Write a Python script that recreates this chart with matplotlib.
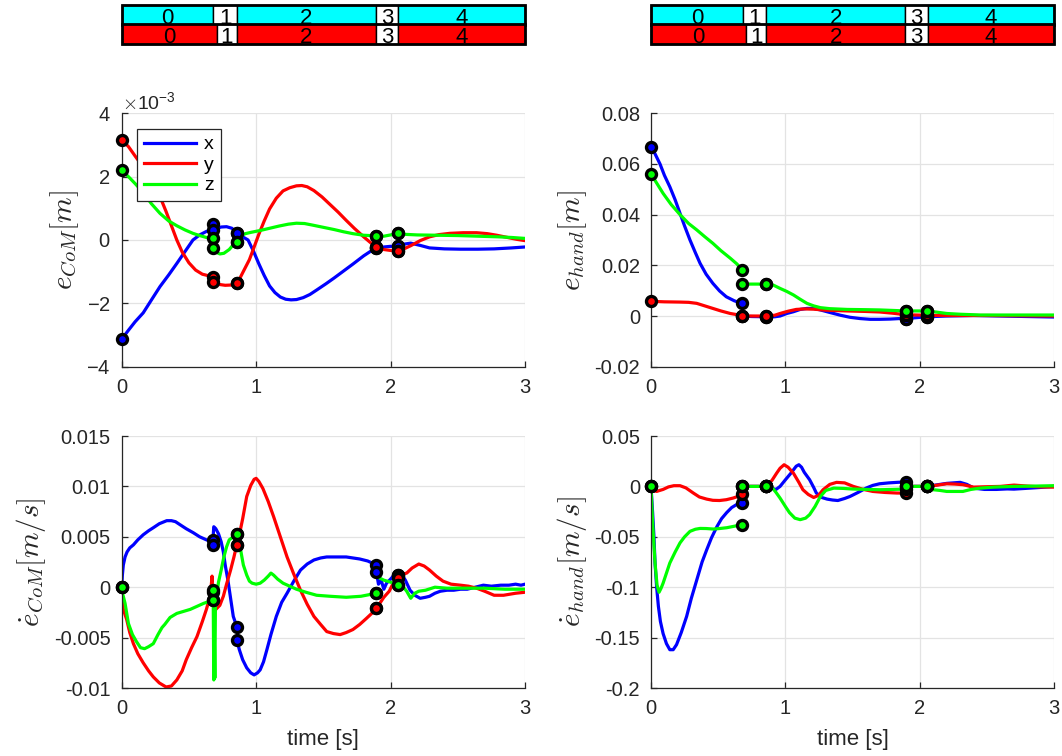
import numpy as np
import matplotlib
matplotlib.use("Agg")
import matplotlib.pyplot as plt
from matplotlib.patches import Rectangle
from matplotlib.ticker import FuncFormatter, ScalarFormatter

nan = np.nan
MILLI = 1e-3

# ---------------------------------------------------------------- phases
PHASE_LABELS = ["0", "1", "2", "3", "4"]
PHASE_EDGES_TOP = [0.0, 0.682, 0.856, 1.892, 2.058, 3.0]
PHASE_EDGES_BOT = [0.0, 0.707, 0.856, 1.892, 2.058, 3.0]

# start / end markers of each phase
MARK_T = [0.0, 0.676, 0.676, 0.856, 0.856, 1.895, 1.895, 2.053, 2.053]

# ---------------------------------------------------------------- CoM error (x1e-3 m)
COM_X_T = [0.0, 0.05, 0.10, 0.16, 0.22, 0.285, 0.35, 0.41, 0.47, 0.53, 0.58, 0.63, 0.676,
           0.70, 0.74, 0.78, 0.82, 0.856,
           0.90, 0.94, 0.98, 1.02, 1.06, 1.10, 1.14, 1.18, 1.22, 1.26, 1.30, 1.35, 1.40, 1.45,
           1.52, 1.58, 1.65, 1.72, 1.80, 1.85, 1.895,
           1.95, 2.0, 2.053,
           2.10, 2.15, 2.22, 2.29, 2.40, 2.52, 2.65, 2.77, 2.90, 3.0]
COM_X = [-3.13, -2.85, -2.58, -2.3, -1.9, -1.47, -1.1, -0.74, -0.37, 0.0, 0.16, 0.27, 0.32,
         0.36, 0.41, 0.42, 0.37, 0.23,
         0.1, 0.0, -0.35, -0.75, -1.12, -1.45, -1.66, -1.8, -1.87, -1.89, -1.88, -1.82, -1.72, -1.58,
         -1.38, -1.2, -0.98, -0.76, -0.5, -0.36, -0.25,
         -0.22, -0.2, -0.2,
         -0.13, -0.1, -0.17, -0.25, -0.28, -0.29, -0.29, -0.28, -0.25, -0.22]

COM_Y_T = [0.0, 0.05, 0.10, 0.16, 0.22, 0.285, 0.33, 0.37, 0.41, 0.45, 0.50, 0.55, 0.60, 0.676,
           0.676, 0.676,
           0.72, 0.77, 0.82, 0.856,
           0.88, 0.91, 0.95, 0.98, 1.02, 1.06, 1.10, 1.15, 1.20, 1.25, 1.30, 1.34, 1.38, 1.43,
           1.49, 1.55, 1.61, 1.67, 1.73, 1.80, 1.85, 1.895,
           1.95, 2.0, 2.053,
           2.10, 2.15, 2.22, 2.29, 2.36, 2.44, 2.54, 2.64, 2.72, 2.79, 2.87, 2.94, 3.0]
COM_Y = [3.16, 2.95, 2.65, 2.3, 1.85, 1.37, 0.9, 0.45, 0.0, -0.38, -0.72, -0.95, -1.08, -1.16,
         nan, -1.32,
         -1.4, -1.43, -1.42, -1.35,
         -1.2, -0.95, -0.62, -0.28, 0.18, 0.6, 0.98, 1.32, 1.55, 1.65, 1.71, 1.72, 1.68, 1.56,
         1.36, 1.12, 0.88, 0.62, 0.37, 0.1, -0.08, -0.21,
         -0.3, -0.33, -0.34,
         -0.28, -0.18, -0.02, 0.1, 0.17, 0.21, 0.23, 0.23, 0.2, 0.15, 0.08, 0.02, -0.02]

COM_Z_T = [0.0, 0.05, 0.10, 0.16, 0.22, 0.285, 0.35, 0.41, 0.47, 0.53, 0.58, 0.63, 0.676,
           0.676, 0.676,
           0.70, 0.73, 0.76, 0.80, 0.83, 0.856,
           0.88, 0.92, 0.96, 1.03, 1.10, 1.17, 1.24, 1.30, 1.36, 1.42, 1.50, 1.58, 1.65, 1.72,
           1.80, 1.895,
           1.95, 2.0, 2.053,
           2.10, 2.2, 2.35, 2.5, 2.65, 2.8, 2.9, 3.0]
COM_Z = [2.21, 2.0, 1.78, 1.5, 1.15, 0.84, 0.6, 0.45, 0.32, 0.21, 0.14, 0.08, 0.05,
         nan, -0.25,
         -0.38, -0.44, -0.42, -0.3, -0.15, -0.05,
         0.12, 0.2, 0.24, 0.3, 0.37, 0.44, 0.5, 0.53, 0.52, 0.47, 0.4, 0.33, 0.26, 0.2,
         0.15, 0.13,
         0.12, 0.16, 0.21,
         0.18, 0.16, 0.15, 0.14, 0.12, 0.1, 0.08, 0.05]

COM_X_MK = [-3.13, 0.5, 0.32, 0.23, 0.23, -0.25, -0.25, -0.2, -0.2]
COM_Y_MK = [3.16, -1.16, -1.32, -1.35, -1.35, -0.21, -0.21, -0.34, -0.34]
COM_Z_MK = [2.21, 0.05, -0.25, -0.05, -0.05, 0.13, 0.13, 0.21, 0.21]

# ---------------------------------------------------------------- hand error (m)
HAND_X_T = [0.0, 0.03, 0.067, 0.10, 0.14, 0.18, 0.216, 0.25, 0.29, 0.33, 0.365, 0.41, 0.46,
            0.51, 0.56, 0.62, 0.676,
            0.676, 0.676,
            0.75, 0.856,
            0.92, 0.96, 1.01, 1.06, 1.11, 1.16, 1.21, 1.26, 1.33, 1.41, 1.48, 1.555, 1.63, 1.70,
            1.78, 1.85, 1.895,
            2.053,
            2.2, 2.4, 2.6, 2.8, 3.0]
HAND_X = [0.0668, 0.064, 0.060, 0.0555, 0.051, 0.0458, 0.0405, 0.0355, 0.030, 0.025, 0.0208,
          0.0165, 0.0129, 0.0099, 0.0076, 0.006, 0.005,
          nan, 0.0,
          -0.0002, -0.0003,
          -0.0003, 0.0, 0.001, 0.0017, 0.0026, 0.003, 0.003, 0.0024, 0.0014, 0.0003, -0.0005,
          -0.001, -0.0013, -0.0013, -0.0012, -0.001, -0.001,
          -0.0003,
          0.0, 0.0002, 0.0, -0.0002, -0.0004]

HAND_Y_T = [0.0, 0.1, 0.216, 0.28, 0.34, 0.40, 0.46, 0.52, 0.59, 0.676,
            0.676, 0.676,
            0.856,
            0.92, 0.96, 1.02, 1.08, 1.14, 1.21, 1.30, 1.46, 1.60, 1.70, 1.80, 1.895,
            2.053, 2.2, 2.5, 3.0]
HAND_Y = [0.0058, 0.0056, 0.0055, 0.0054, 0.005, 0.004, 0.003, 0.002, 0.001, 0.0002,
          nan, 0.0,
          0.0,
          0.0003, 0.001, 0.0019, 0.0026, 0.0028, 0.0027, 0.0023, 0.002, 0.0018, 0.0016, 0.0011,
          0.0005,
          0.0003, 0.0002, 0.0002, 0.0]

HAND_Z_T = [0.0, 0.03, 0.09, 0.15, 0.216, 0.28, 0.34, 0.40, 0.46, 0.52, 0.59, 0.64, 0.676,
            0.676, 0.676,
            0.856,
            0.91, 0.96, 1.01, 1.06, 1.11, 1.16, 1.21, 1.26, 1.33, 1.46, 1.60, 1.70, 1.80, 1.895,
            2.053, 2.13, 2.2, 2.3, 2.45, 2.7, 3.0]
HAND_Z = [0.056, 0.0535, 0.0484, 0.044, 0.040, 0.0365, 0.034, 0.0313, 0.0287, 0.0258, 0.0228,
          0.0205, 0.0182,
          nan, 0.0126,
          0.0126,
          0.0122, 0.0109, 0.0097, 0.0083, 0.0066, 0.005, 0.004, 0.0033, 0.0029, 0.0026, 0.0025,
          0.0024, 0.0022, 0.002,
          0.002, 0.0015, 0.001, 0.0007, 0.0004, 0.0004, 0.0004]

HAND_X_MK = [0.0668, 0.005, 0.0, -0.0003, -0.0003, -0.001, -0.001, -0.0003, -0.0003]
HAND_Y_MK = [0.0058, 0.0002, 0.0, 0.0, 0.0, 0.0005, 0.0005, 0.0003, 0.0003]
HAND_Z_MK = [0.056, 0.0182, 0.0126, 0.0126, 0.0126, 0.002, 0.002, 0.002, 0.002]

# ---------------------------------------------------------------- CoM velocity error (x1e-3 m/s)
DCOM_X_T = [0.0, 0.005, 0.012, 0.025, 0.04, 0.06, 0.087, 0.12, 0.16, 0.2, 0.235, 0.28, 0.335,
            0.37, 0.40, 0.434, 0.48, 0.533, 0.58, 0.63, 0.676,
            0.676, 0.676,
            0.685, 0.70, 0.72, 0.74, 0.756, 0.77, 0.79, 0.81, 0.83, 0.856,
            0.856, 0.856,
            0.875, 0.90, 0.93, 0.96, 0.985, 1.01, 1.03, 1.055, 1.08, 1.11, 1.15, 1.19, 1.23,
            1.28, 1.33, 1.38, 1.43, 1.48, 1.525, 1.60, 1.67, 1.72, 1.77, 1.83, 1.895,
            1.895, 1.895,
            1.91, 1.93, 1.95, 1.97, 2.0, 2.02, 2.053,
            2.08, 2.11, 2.145, 2.18, 2.22, 2.26, 2.29, 2.33, 2.37, 2.42, 2.47, 2.52, 2.57, 2.63,
            2.69, 2.75, 2.82, 2.88, 2.93, 2.97, 3.0]
DCOM_X = [0.0, 1.2, 2.2, 3.0, 3.5, 3.9, 4.2, 4.7, 5.2, 5.6, 5.9, 6.3, 6.6,
          6.6, 6.5, 6.2, 5.8, 5.4, 5.0, 4.7, 4.5,
          nan, 4.2,
          6.0, 5.8, 5.3, 4.5, 3.5, 2.2, 0.7, -1.1, -2.9, -3.9,
          nan, -5.2,
          -6.2, -7.2, -8.0, -8.5, -8.7, -8.5, -8.2, -7.4, -6.2, -4.7, -2.9, -1.5, -0.6,
          0.6, 1.7, 2.3, 2.7, 2.9, 3.0, 3.0, 3.0, 2.9, 2.8, 2.6, 2.2,
          nan, 1.5,
          0.3, 0.7, -0.2, 0.4, 0.8, 1.1, 1.2,
          1.3, 0.7, -0.3, -0.8, -1.1, -1.0, -0.9, -0.6, -0.4, -0.3, -0.3, -0.2, -0.2, 0.0,
          0.2, 0.1, 0.2, 0.2, 0.3, 0.2, 0.3]

DCOM_Y_T = [0.0, 0.012, 0.037, 0.06, 0.087, 0.12, 0.16, 0.2, 0.235, 0.28, 0.33, 0.37, 0.41,
            0.45, 0.48, 0.52, 0.56, 0.60, 0.63, 0.66, 0.672, 0.676,
            0.676, 0.676,
            0.685, 0.70, 0.73, 0.756, 0.78, 0.81, 0.835, 0.856,
            0.856, 0.856,
            0.88, 0.90, 0.93, 0.96, 0.985, 1.0, 1.02, 1.05, 1.09, 1.13, 1.18, 1.23, 1.28, 1.33,
            1.38, 1.43, 1.48, 1.525, 1.575, 1.625, 1.67, 1.72, 1.77, 1.82, 1.86, 1.895,
            1.895, 1.895,
            1.92, 1.95, 1.99, 2.02, 2.053,
            2.09, 2.12, 2.16, 2.21, 2.25, 2.29, 2.34, 2.39, 2.45, 2.52, 2.58, 2.64, 2.70, 2.77,
            2.84, 2.93, 3.0]
DCOM_Y = [0.0, -2.2, -3.2, -4.5, -5.6, -6.6, -7.5, -8.3, -8.9, -9.5, -9.9, -9.8, -9.2,
          -8.3, -7.2, -6.0, -4.9, -3.4, -2.2, -0.8, 1.1, -0.5,
          nan, -1.3,
          -1.5, -2.2, -1.8, -0.9, 0.3, 1.7, 3.0, 4.2,
          nan, 4.2,
          5.5, 6.8, 9.0, 10.1, 10.7, 10.8, 10.5, 9.8, 8.5, 7.0, 5.0, 3.0, 1.3, -0.3,
          -1.7, -2.9, -3.7, -4.4, -4.6, -4.7, -4.5, -4.2, -3.7, -3.1, -2.6, -2.1,
          nan, -2.1,
          -1.6, -1.0, -0.4, 0.4, 1.1,
          1.3, 1.4, 1.9, 2.3, 2.1, 1.7, 1.1, 0.6, 0.3, 0.2, 0.1, -0.1, -0.4, -0.8,
          -0.8, -0.6, -0.5]

DCOM_Z_T = [0.0, 0.01, 0.025, 0.05, 0.08, 0.11, 0.14, 0.17, 0.2, 0.235, 0.27, 0.30, 0.32,
            0.36, 0.41, 0.46, 0.51, 0.56, 0.61, 0.676,
            0.676, 0.676,
            0.681, 0.685, 0.689, 0.693, 0.697, 0.70, 0.72, 0.74, 0.76, 0.78, 0.80, 0.83, 0.856,
            0.856, 0.856,
            0.875, 0.89, 0.905, 0.93, 0.95, 0.97, 1.0, 1.03, 1.06, 1.09, 1.11, 1.13, 1.16, 1.2,
            1.25, 1.3, 1.37, 1.45, 1.55, 1.67, 1.78, 1.895,
            1.895, 1.895,
            1.92, 1.95, 2.0, 2.053,
            2.09, 2.12, 2.15, 2.18, 2.21, 2.26, 2.33, 2.42, 2.55, 2.7, 2.85, 3.0]
DCOM_Z = [0.0, -0.8, -1.6, -3.6, -4.7, -5.4, -6.0, -6.1, -5.9, -5.6, -4.7, -4.0, -3.7,
          -3.0, -2.6, -2.4, -2.2, -1.9, -1.6, -1.3,
          nan, -0.3,
          -1.5, -9.2, -5.0, -9.0, -2.0, -1.5, 0.5, 1.7, 3.0, 4.0, 4.7, 5.0, 5.3,
          nan, 5.3,
          4.4, 3.3, 2.2, 1.2, 0.6, 0.4, 0.3, 0.4, 0.7, 1.1, 1.4, 1.2, 0.8, 0.4,
          0.1, -0.2, -0.5, -0.8, -0.9, -1.0, -0.9, -0.6,
          nan, 1.2,
          0.9, 0.7, 0.5, 0.2,
          0.1, -0.4, -1.1, -0.6, -0.4, -0.3, 0.0, -0.1, -0.1, -0.1, -0.2, -0.2]

DCOM_X_MK = [0.0, 4.7, 4.2, -3.9, -5.2, 2.2, 1.5, 1.2, 1.2]
DCOM_Y_MK = [0.0, -0.5, -1.3, 4.2, 4.2, -2.1, -2.1, 1.1, 0.9]
DCOM_Z_MK = [0.0, -1.3, -0.3, 5.3, 5.3, -0.6, -0.6, 0.2, 0.2]

# ---------------------------------------------------------------- hand velocity error (m/s)
DHAND_X_T = [0.0, 0.012, 0.022, 0.03, 0.042, 0.055, 0.07, 0.09, 0.115, 0.14, 0.165, 0.19,
             0.225, 0.265, 0.30, 0.34, 0.38, 0.414, 0.45, 0.49, 0.525, 0.563, 0.60, 0.637, 0.676,
             0.676, 0.676,
             0.856,
             0.9, 0.93, 0.96, 1.0, 1.04, 1.06, 1.08, 1.1, 1.12, 1.14, 1.18, 1.21, 1.23, 1.27,
             1.31, 1.35, 1.39, 1.44, 1.48, 1.54, 1.6, 1.65, 1.7, 1.77, 1.83, 1.895,
             1.895, 1.895,
             2.053,
             2.1, 2.15, 2.2, 2.25, 2.3, 2.35, 2.4, 2.48, 2.57, 2.65, 2.7, 2.82, 2.9, 3.0]
DHAND_X = [0.0, -0.026, -0.05, -0.076, -0.1, -0.119, -0.134, -0.146, -0.156, -0.162, -0.162,
           -0.157, -0.145, -0.129, -0.111, -0.093, -0.075, -0.063, -0.051, -0.04, -0.032,
           -0.026, -0.021, -0.018, -0.0165,
           nan, 0.0,
           0.0,
           -0.002, -0.003, 0.0, 0.0066, 0.013, 0.0165, 0.02, 0.0215, 0.019, 0.014, 0.0066,
           -0.001, -0.0066, -0.011, -0.0126, -0.0135, -0.014, -0.012, -0.01, -0.006, -0.0017,
           0.001, 0.0026, 0.0035, 0.004, 0.0045,
           nan, 0.0,
           0.0,
           0.001, 0.002, 0.003, 0.0035, 0.004, 0.002, -0.0017, -0.003, -0.003, -0.0025,
           -0.0027, -0.0017, -0.001, 0.0]

DHAND_Y_T = [0.0, 0.02, 0.042, 0.065, 0.09, 0.13, 0.17, 0.216, 0.26, 0.315, 0.36, 0.414, 0.46,
             0.51, 0.56, 0.61, 0.65, 0.676,
             0.676, 0.676,
             0.856,
             0.90, 0.935, 0.96, 0.99, 1.02, 1.06, 1.1, 1.13, 1.17, 1.21, 1.245, 1.28, 1.33,
             1.38, 1.44, 1.505, 1.58, 1.65, 1.74, 1.83, 1.895,
             1.895, 1.895,
             2.053,
             2.1, 2.2, 2.26, 2.32, 2.4, 2.5, 2.6, 2.7, 2.8, 2.9, 3.0]
DHAND_Y = [0.0, -0.004, -0.005, -0.004, -0.003, -0.0005, 0.0007, 0.0007, -0.0015, -0.0066,
           -0.0105, -0.0126, -0.0138, -0.014, -0.0132, -0.0116, -0.0098, -0.008,
           nan, 0.0,
           0.0,
           0.006, 0.0132, 0.018, 0.0215, 0.019, 0.013, 0.004, -0.0033, -0.008, -0.011, -0.009,
           -0.0033, 0.002, 0.004, 0.0035, 0.0, -0.003, -0.005, -0.006, -0.0066, -0.0066,
           nan, 0.0,
           0.0,
           0.0007, 0.0026, 0.0023, 0.0017, -0.0007, -0.0003, 0.0, 0.0013, 0.0003, -0.0005,
           -0.0007]

DHAND_Z_T = [0.0, 0.012, 0.03, 0.045, 0.06, 0.075, 0.09, 0.115, 0.14, 0.18, 0.216, 0.25, 0.29,
             0.33, 0.365, 0.41, 0.464, 0.51, 0.563, 0.62, 0.676,
             0.676, 0.676,
             0.856,
             0.90, 0.93, 0.96, 1.0, 1.03, 1.07, 1.11, 1.15, 1.18, 1.22, 1.26, 1.3, 1.36, 1.43,
             1.5, 1.6, 1.7, 1.8, 1.895,
             1.895, 1.895,
             2.053,
             2.1, 2.15, 2.2, 2.32, 2.38, 2.45, 2.55, 2.7, 2.85, 3.0]
DHAND_Z = [0.0, -0.036, -0.076, -0.098, -0.105, -0.101, -0.096, -0.086, -0.076, -0.065, -0.056,
           -0.05, -0.0446, -0.0425, -0.0417, -0.0418, -0.0423, -0.0418, -0.041, -0.0395, -0.038,
           nan, 0.0,
           0.0,
           -0.001, -0.006, -0.0116, -0.02, -0.026, -0.0315, -0.033, -0.0315, -0.028, -0.02,
           -0.01, -0.004, -0.0017, -0.002, -0.0026, -0.003, -0.0033, -0.003, -0.0026,
           nan, 0.0,
           0.0,
           -0.0033, -0.004, -0.005, -0.005, -0.003, -0.0017, -0.0007, 0.0, 0.0003, 0.0007]

DHAND_X_MK = [0.0, -0.0165, 0.0, 0.0, 0.0, 0.0045, 0.0, 0.0, 0.0]
DHAND_Y_MK = [0.0, -0.008, 0.0, 0.0, 0.0, -0.0066, 0.0, 0.0, 0.0]
DHAND_Z_MK = [0.0, -0.038, 0.0, 0.0, 0.0, -0.0026, 0.0, 0.0, 0.0]

# ---------------------------------------------------------------- axes / labels
SERIES_LABELS = ["x", "y", "z"]
SERIES_COLORS = ["#0000ff", "#ff0000", "#00ff00"]
XTICKS = [0, 1, 2, 3]
YTICKS_COM = [-4e-3, -2e-3, 0.0, 2e-3, 4e-3]
YTICKS_HAND = [-0.02, 0.0, 0.02, 0.04, 0.06, 0.08]
YTICKS_DCOM = [-0.01, -0.005, 0.0, 0.005, 0.01, 0.015]
YTICKS_DHAND = [-0.2, -0.15, -0.1, -0.05, 0.0, 0.05]
XLABEL = "time [s]"
YLABEL_COM = r"$e_{CoM}[m]$"
YLABEL_HAND = r"$e_{hand}[m]$"
YLABEL_DCOM = r"$\dot{e}_{CoM}[m/s]$"
YLABEL_DHAND = r"$\dot{e}_{hand}[m/s]$"

AXIS_C = "#262626"
GRID_C = "#e3e3e3"

plt.rcParams.update({
    "font.family": ["Liberation Sans", "DejaVu Sans"],
    "mathtext.fontset": "cm",
    "axes.unicode_minus": False,
})

fig = plt.figure(figsize=(10.62, 7.56), dpi=100)
W, H = 1062.0, 756.0
AX_W = 403.3 / W
LEFT_L, LEFT_R = 121.7 / W, 651.0 / W
POS = {
    "tl": [LEFT_L, 1 - 366.7 / H, AX_W, 253.4 / H],
    "tr": [LEFT_R, 1 - 366.7 / H, AX_W, 253.4 / H],
    "bl": [LEFT_L, 1 - 688.0 / H, AX_W, 252.0 / H],
    "br": [LEFT_R, 1 - 688.0 / H, AX_W, 252.0 / H],
}

g_fmt = FuncFormatter(lambda v, p: "%g" % round(v, 6))


def style(ax, yticks, ylabel, sci=False):
    ax.set_xlim(0, 3)
    ax.set_ylim(yticks[0], yticks[-1])
    ax.set_xticks(XTICKS)
    ax.set_yticks(yticks)
    ax.xaxis.set_major_formatter(g_fmt)
    if sci:
        f = ScalarFormatter(useMathText=True)
        f.set_powerlimits((0, 0))
        ax.yaxis.set_major_formatter(f)
        ax.yaxis.get_offset_text().set_fontsize(14)
        ax.yaxis.get_offset_text().set_color(AXIS_C)
    else:
        ax.yaxis.set_major_formatter(g_fmt)
    ax.grid(True, color=GRID_C, lw=0.9)
    ax.set_axisbelow(True)
    for s in ("top", "right"):
        ax.spines[s].set_visible(False)
    for s in ("left", "bottom"):
        ax.spines[s].set_color(AXIS_C)
        ax.spines[s].set_linewidth(0.9)
    ax.tick_params(direction="in", length=4, width=0.9, colors=AXIS_C,
                   labelsize=14.5, pad=8)
    ax.set_ylabel(ylabel, fontsize=21, color=AXIS_C, labelpad=4)


def draw(ax, lines, marks, scale=1.0, labels=None):
    for i, (t, v) in enumerate(lines):
        ax.plot(t, np.asarray(v) * scale, color=SERIES_COLORS[i], lw=2.3,
                label=None if labels is None else labels[i], zorder=2)
    for i, mk in enumerate(marks):
        ax.plot(MARK_T, np.asarray(mk) * scale, ls="none", marker="o", ms=7.2,
                mfc=SERIES_COLORS[i], mec="black", mew=2.4, zorder=3, clip_on=False)


ax_tl = fig.add_axes(POS["tl"])
draw(ax_tl, [(COM_X_T, COM_X), (COM_Y_T, COM_Y), (COM_Z_T, COM_Z)],
     [COM_X_MK, COM_Y_MK, COM_Z_MK], scale=MILLI, labels=SERIES_LABELS)
style(ax_tl, YTICKS_COM, YLABEL_COM, sci=True)
leg = ax_tl.legend(loc="upper left", bbox_to_anchor=(0.038, 0.938), borderaxespad=0,
                   fontsize=14, handlelength=2.7, handletextpad=0.4, labelspacing=0.15,
                   borderpad=0.35, fancybox=False, framealpha=1, edgecolor=AXIS_C)
leg.get_frame().set_linewidth(0.9)

ax_tr = fig.add_axes(POS["tr"])
draw(ax_tr, [(HAND_X_T, HAND_X), (HAND_Y_T, HAND_Y), (HAND_Z_T, HAND_Z)],
     [HAND_X_MK, HAND_Y_MK, HAND_Z_MK])
style(ax_tr, YTICKS_HAND, YLABEL_HAND)

ax_bl = fig.add_axes(POS["bl"])
draw(ax_bl, [(DCOM_X_T, DCOM_X), (DCOM_Y_T, DCOM_Y), (DCOM_Z_T, DCOM_Z)],
     [DCOM_X_MK, DCOM_Y_MK, DCOM_Z_MK], scale=MILLI)
style(ax_bl, YTICKS_DCOM, YLABEL_DCOM)
ax_bl.set_xlabel(XLABEL, fontsize=16, color=AXIS_C, labelpad=8)

ax_br = fig.add_axes(POS["br"])
draw(ax_br, [(DHAND_X_T, DHAND_X), (DHAND_Y_T, DHAND_Y), (DHAND_Z_T, DHAND_Z)],
     [DHAND_X_MK, DHAND_Y_MK, DHAND_Z_MK])
style(ax_br, YTICKS_DHAND, YLABEL_DHAND)
ax_br.set_xlabel(XLABEL, fontsize=16, color=AXIS_C, labelpad=8)


# ---------------------------------------------------------------- phase strips
def phase_strip(left):
    bax = fig.add_axes([left, 1 - 44.0 / H, AX_W, 39.0 / H])
    bax.set_xlim(0, 3)
    bax.set_ylim(0, 2)
    bax.axis("off")
    rows = [(PHASE_EDGES_TOP, "#00ffff", 1.0), (PHASE_EDGES_BOT, "#ff0000", 0.0)]
    for edges, color, y0 in rows:
        for k, lab in enumerate(PHASE_LABELS):
            fc = "white" if k in (1, 3) else color
            bax.add_patch(Rectangle((edges[k], y0), edges[k + 1] - edges[k], 1.0,
                                    fc=fc, ec="black", lw=1.0, clip_on=False))
            bax.text((edges[k] + edges[k + 1]) / 2, y0 + 0.32, lab, ha="center",
                     va="center", fontsize=16, color="black", clip_on=False)
        bax.add_patch(Rectangle((0, y0), 3.0, 1.0, fill=False, ec="black", lw=2.0,
                                clip_on=False))


phase_strip(LEFT_L)
phase_strip(LEFT_R)

fig.savefig("out.png", dpi=100)
